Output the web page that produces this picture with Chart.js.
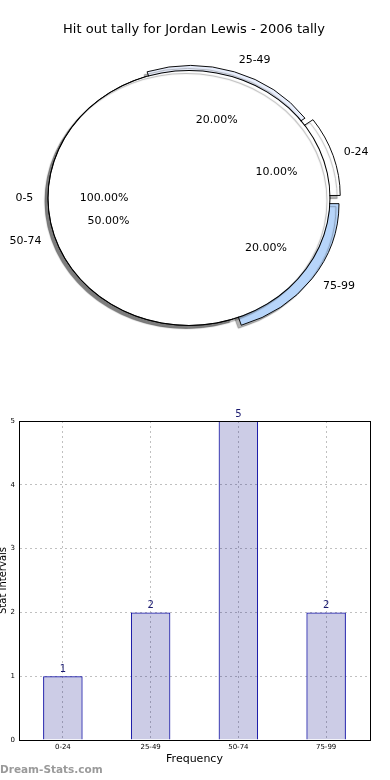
<!DOCTYPE html>
<html>
<head>
<meta charset="utf-8">
<script src="https://cdn.jsdelivr.net/npm/chart.js@4.4.1/dist/chart.umd.min.js"></script>
<style>
  body { margin: 0; background: #fff; }
  #wrap { position: relative; width: 390px; height: 780px; }
  canvas { position: absolute; left: 0; }
  #pie, #pieTop { top: 0; }
  #bar { top: 360px; }
</style>
</head>
<body>
<div id="wrap">
  <canvas id="pie" width="390" height="360"></canvas>
  <canvas id="pieTop" width="390" height="360"></canvas>
  <canvas id="bar" width="390" height="420"></canvas>
</div>
<script>
const chartTitle = 'Hit out tally for Jordan Lewis - 2006 tally';
const categories = ['0-24', '25-49', '50-74', '75-99'];
const tally = [1, 2, 5, 2];
const baseCategories = ['0-5'];
const baseTally = [1];
const yTicks = [0, 1, 2, 3, 4, 5];

const sliceColors = ['#ffffff', '#e9effd', '#ffffff', '#b7d5fa'];
const explode = [30, 22, 0, 42];

const FONT = '"DejaVu Sans", sans-serif';
const SY = 0.904; // pie is drawn a bit squashed, like the original
// matplotlib goes counter-clockwise from 3 o'clock, chart.js clockwise -> reverse
const ord = [3, 2, 1, 0];

// squash the arcs vertically + drop shadow
const squash = {
  id: 'squash',
  beforeDatasetsDraw(chart) {
    const arc = chart.getDatasetMeta(0).data[0];
    const ctx = chart.ctx;
    ctx.save();
    ctx.translate(arc.x, arc.y);
    ctx.scale(1, SY);
    ctx.translate(-arc.x, -arc.y);
    ctx.shadowColor = 'rgba(0,0,0,0.3)';
    ctx.shadowOffsetX = -3;
    ctx.shadowOffsetY = 3;
    ctx.shadowBlur = 1;
  },
  afterDatasetsDraw(chart) {
    chart.ctx.restore();
  }
};

function drawPieLabels(ctx, chart) {
  const meta = chart.getDatasetMeta(0);
  const vals = chart.data.datasets[0].data;
  const total = vals.reduce((a, b) => a + b, 0);
  meta.data.forEach((arc, i) => {
    const p = arc.getProps(['x', 'y', 'startAngle', 'endAngle', 'outerRadius'], true);
    const mid = (p.startAngle + p.endAngle) / 2;
    const off = (arc.options.offset || 0) / 4;
    const c = Math.cos(mid), s = Math.sin(mid);
    const r1 = p.outerRadius * 1.1 + off;
    const r2 = p.outerRadius * 0.6 + off;
    ctx.textAlign = c > 0 ? 'left' : 'right';
    ctx.fillText(chart.data.labels[i], p.x + c * r1, p.y + s * r1 * SY);
    ctx.textAlign = 'center';
    ctx.fillText((vals[i] / total * 100).toFixed(2) + '%', p.x + c * r2, p.y + s * r2 * SY);
  });
}

let pieChart;

// all pie texts go on the top canvas so the white disc doesn't hide them
const pieTexts = {
  id: 'pieTexts',
  afterDraw(chart) {
    const ctx = chart.ctx;
    ctx.save();
    ctx.fillStyle = '#000';
    ctx.textBaseline = 'middle';
    ctx.font = '11px ' + FONT;
    drawPieLabels(ctx, pieChart);
    drawPieLabels(ctx, chart);
    ctx.font = '13px ' + FONT;
    ctx.textAlign = 'center';
    ctx.fillText(chartTitle, 194, 30);
    ctx.restore();
  }
};

const pieOptions = {
  responsive: false,
  animation: false,
  events: [],
  layout: { padding: { left: 39, right: 51, top: 48, bottom: 12 } },
  plugins: { legend: { display: false }, tooltip: { enabled: false } }
};

pieChart = new Chart(document.getElementById('pie'), {
  type: 'pie',
  data: {
    labels: ord.map(i => categories[i]),
    datasets: [{
      data: ord.map(i => tally[i]),
      backgroundColor: ord.map(i => sliceColors[i]),
      offset: ord.map(i => explode[i]),
      borderColor: '#000',
      borderWidth: 1,
      hoverBorderWidth: 1,
      hoverOffset: 0,
      rotation: 90,
      radius: 141
    }]
  },
  options: pieOptions,
  plugins: [squash]
});

// the 100% "0-5" disc: thin black ring (outline) + white fill inside
new Chart(document.getElementById('pieTop'), {
  type: 'pie',
  data: {
    labels: baseCategories,
    datasets: [{
      data: baseTally,
      backgroundColor: '#000',
      borderWidth: 0,
      hoverOffset: 0,
      rotation: 90,
      radius: 141.5,
      weight: 1
    }, {
      data: baseTally,
      backgroundColor: '#ffffff',
      borderWidth: 0,
      hoverOffset: 0,
      rotation: 90,
      radius: 141.5,
      weight: 140
    }]
  },
  options: Object.assign({}, pieOptions, { radius: 141.5 }),
  plugins: [squash, pieTexts]
});

// box round the plot area
const frame = {
  id: 'frame',
  afterDatasetsDraw(chart) {
    const a = chart.chartArea;
    const ctx = chart.ctx;
    ctx.save();
    ctx.strokeStyle = '#000';
    ctx.lineWidth = 1;
    ctx.strokeRect(Math.round(a.left) + 0.5, Math.round(a.top) + 0.5,
      Math.round(a.right - a.left), Math.round(a.bottom - a.top));
    ctx.restore();
  }
};

const barValues = {
  id: 'barValues',
  afterDraw(chart) {
    const ctx = chart.ctx;
    const meta = chart.getDatasetMeta(0);
    ctx.save();
    ctx.font = '10px ' + FONT;
    ctx.fillStyle = '#1a1a70';
    ctx.textAlign = 'center';
    ctx.textBaseline = 'bottom';
    meta.data.forEach((bar, i) => {
      ctx.fillText(String(chart.data.datasets[0].data[i]), bar.x, bar.y - 2);
    });
    // watermark
    ctx.font = 'bold 10.5px ' + FONT;
    ctx.fillStyle = '#9a9a9a';
    ctx.textAlign = 'left';
    ctx.textBaseline = 'middle';
    ctx.fillText('Dream-Stats.com', 0, 410);
    ctx.restore();
  }
};

new Chart(document.getElementById('bar'), {
  type: 'bar',
  data: {
    labels: categories,
    datasets: [{
      data: tally,
      backgroundColor: 'rgba(0,0,128,0.2)',
      borderColor: '#0000a0',
      borderWidth: 1,
      barPercentage: 0.45,
      categoryPercentage: 1
    }]
  },
  options: {
    responsive: false,
    animation: false,
    events: [],
    layout: { padding: { left: 0, right: 20, top: 61, bottom: 0 } },
    plugins: { legend: { display: false }, tooltip: { enabled: false } },
    scales: {
      x: {
        grid: { offset: false, color: '#c0c0c0', drawTicks: false },
        border: { color: '#000', dash: [2, 3] },
        ticks: { font: { size: 7, family: FONT }, color: '#000', padding: 3 },
        title: { display: true, text: 'Frequency', font: { size: 11, family: FONT }, color: '#000', padding: { top: 0, bottom: 14 } },
        afterFit(s) { s.height = 40; }
      },
      y: {
        min: 0,
        max: 5,
        afterBuildTicks(s) { s.ticks = yTicks.map(v => ({ value: v })); },
        grid: { color: '#c0c0c0', drawTicks: false },
        border: { color: '#000', dash: [2, 3] },
        ticks: { font: { size: 7, family: FONT }, color: '#000', padding: 4 },
        title: { display: true, text: 'Stat Intervals', font: { size: 10, family: FONT }, color: '#000', padding: { top: -3, bottom: 0 } },
        afterFit(s) { s.width = 19; }
      }
    }
  },
  plugins: [frame, barValues]
});
</script>
</body>
</html>
